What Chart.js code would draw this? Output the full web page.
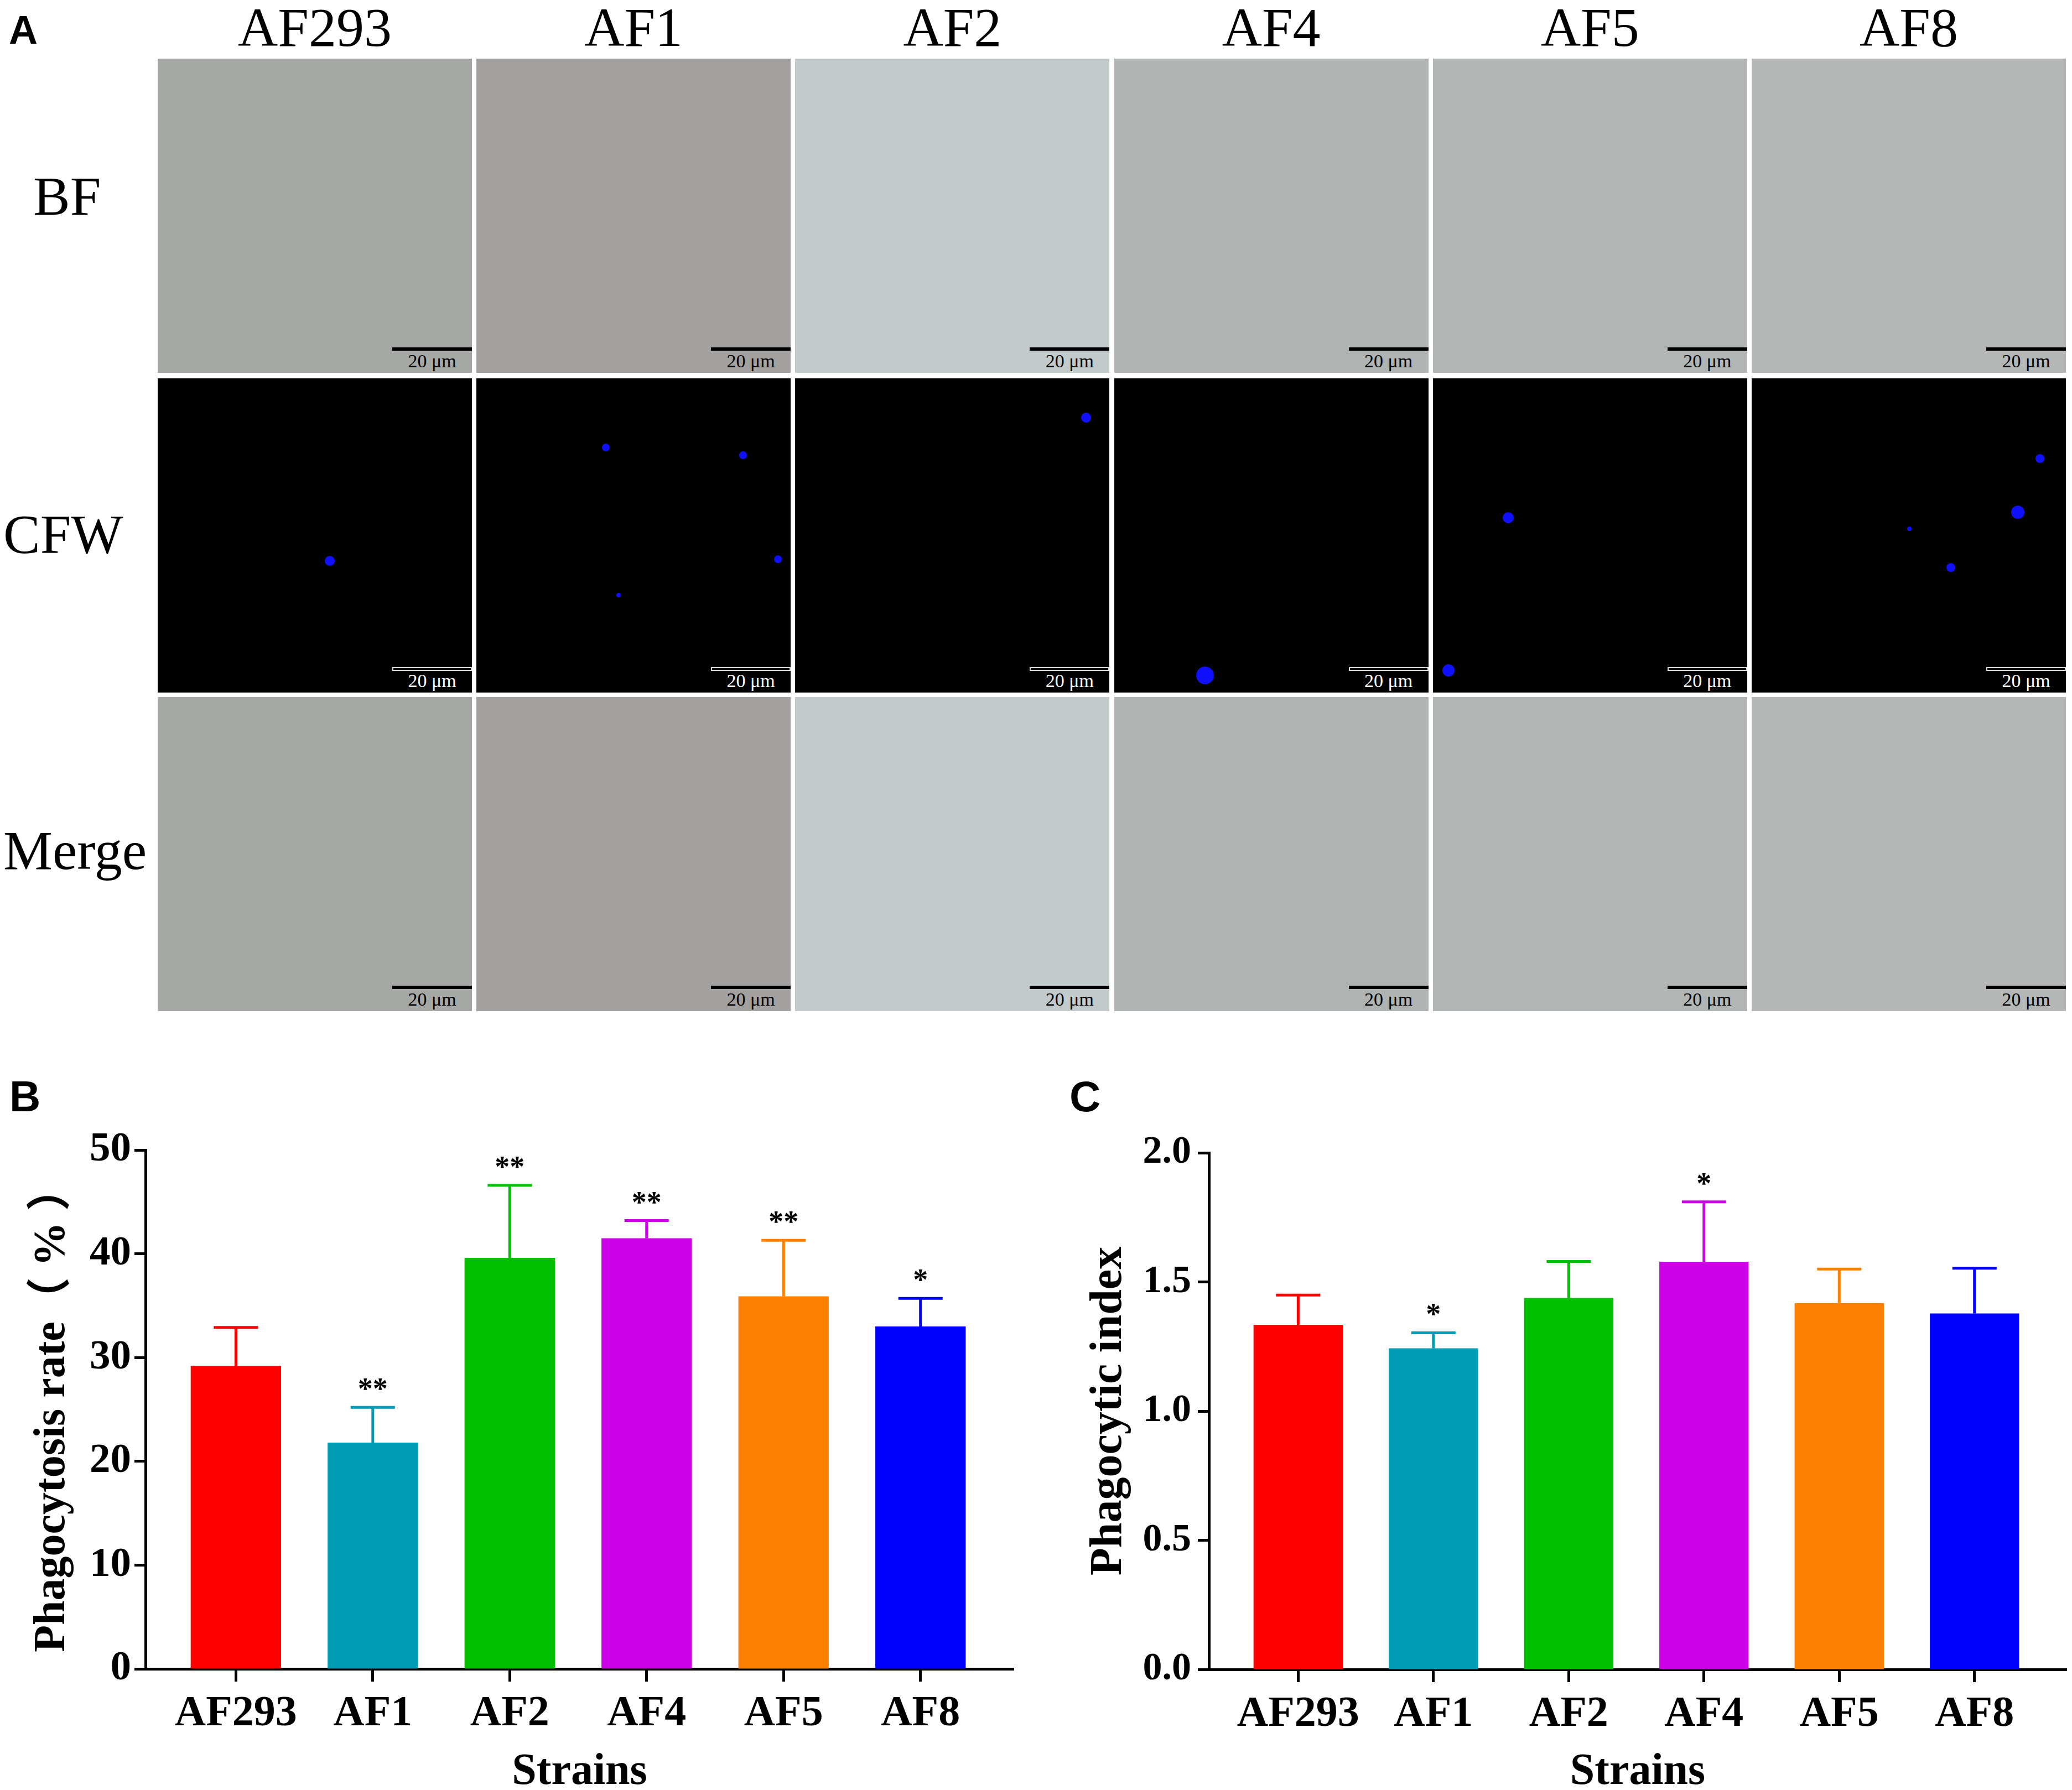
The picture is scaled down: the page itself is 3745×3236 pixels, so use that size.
<!DOCTYPE html>
<html>
<head>
<meta charset="utf-8">
<title>Phagocytosis of Aspergillus strains</title>
<script src="https://cdn.jsdelivr.net/npm/chart.js@4.4.1/dist/chart.umd.min.js"></script>
<style>
    body {
        margin: 0;
        width: 3745px;
        height: 3236px;
        overflow: hidden;
        background: #fff;
        position: relative;
        font-family: 'Liberation Serif', 'Times New Roman', serif;
    }
    .panel-label {
        position: absolute;
        font-family: 'Liberation Sans', Arial, sans-serif;
        font-weight: bold;
        line-height: 1;
        color: #000;
    }
    .serif-label {
        position: absolute;
        font-size: 100px;
        line-height: 100px;
        color: #000;
        white-space: nowrap;
    }
    .img {
        position: absolute;
        width: 568px;
        height: 568px;
        overflow: hidden;
    }
    .bar-scale {
        position: absolute;
        left: 424px;
        top: 522px;
        width: 144px;
        height: 6px;
        background: #000;
    }
    .bar-scale.hollow {
        background: transparent;
        border: 2px solid #d8d8d8;
        height: 3px;
        width: 140px;
    }
    .scale-text {
        position: absolute;
        left: 444px;
        width: 104px;
        top: 530px;
        font-size: 34px;
        line-height: 34px;
        text-align: center;
        color: #000;
    }
    .dot {
        position: absolute;
        border-radius: 50%;
        background: #1010ff;
    }
    canvas { position: absolute; }
</style>
</head>
<body>
<div class="panel-label" style="left:16px; top:18px; font-size:72px;">A</div>
<div class="panel-label" style="left:17px; top:1943px; font-size:78px;">B</div>
<div class="panel-label" style="left:1933px; top:1943px; font-size:78px;">C</div>
<div id="panelA"></div>

<canvas id="rateChart" width="1880" height="1344" style="left:0; top:1900px; width:1880px; height:1344px;"></canvas>
<canvas id="indexChart" width="1865" height="1344" style="left:1880px; top:1900px; width:1865px; height:1344px;"></canvas>

<script>
// strains, shared by both panels
const strains = ['AF293', 'AF1', 'AF2', 'AF4', 'AF5', 'AF8'];
const barColors = ['#ff0000', '#009bb5', '#00c000', '#cc00e6', '#ff8000', '#0000ff'];

// B: phagocytosis rate (%)
const rateMean = [29.2, 21.8, 39.6, 41.5, 35.9, 33.0];
const rateSd = [3.7, 3.4, 7.0, 1.7, 5.4, 2.7];
const rateStars = ['', '**', '**', '**', '**', '*'];
const rateTicks = [0, 10, 20, 30, 40, 50];

// C: phagocytic index
const indexMean = [1.334, 1.243, 1.438, 1.578, 1.418, 1.378];
const indexSd = [0.115, 0.060, 0.141, 0.232, 0.132, 0.175];
const indexStars = ['', '*', '', '*', '', ''];
const indexTicks = [0, 0.5, 1.0, 1.5, 2.0];

// panel A (microscopy) placeholders
const rowNames = ['BF', 'CFW', 'Merge'];
const fieldTones = ['#a6a8a6', '#a3a19f', '#c3cacb', '#afb4b2', '#b1b5b4', '#b5b7b6'];
const cfwDots = [
    [[311, 330, 9]],
    [[234, 125, 7], [482, 139, 7], [545, 327, 7], [257, 392, 4]],
    [[526, 71, 9]],
    [[164, 537, 16]],
    [[136, 252, 10], [28, 528, 11]],
    [[521, 145, 8], [481, 242, 12], [285, 272, 4], [360, 342, 8]]
];

const SERIF = "'Liberation Serif', 'Times New Roman', 'Noto Sans CJK SC', serif";

function buildPanelA() {
    const host = document.getElementById('panelA');
    const colX = strains.map((s, i) => 285 + i * 576.2);
    const rowY = [106, 684, 1260];
    const rowLabelPos = [[60, 305], [6, 916], [6, 1488]];

    strains.forEach((name, c) => {
        const head = document.createElement('div');
        head.className = 'serif-label';
        head.style.left = (colX[c] - 16) + 'px';
        head.style.width = '600px';
        head.style.textAlign = 'center';
        head.style.top = '0px';
        head.textContent = name;
        host.appendChild(head);

        rowY.forEach((y, r) => {
            const box = document.createElement('div');
            box.className = 'img';
            box.style.left = colX[c] + 'px';
            box.style.top = y + 'px';
            const fluo = r === 1;
            box.style.background = fluo ? '#000' : fieldTones[c];

            if (fluo) {
                cfwDots[c].forEach(d => {
                    const dot = document.createElement('div');
                    dot.className = 'dot';
                    dot.style.left = (d[0] - d[2]) + 'px';
                    dot.style.top = (d[1] - d[2]) + 'px';
                    dot.style.width = dot.style.height = (2 * d[2]) + 'px';
                    box.appendChild(dot);
                });
            }

            const bar = document.createElement('div');
            bar.className = fluo ? 'bar-scale hollow' : 'bar-scale';
            box.appendChild(bar);
            const txt = document.createElement('div');
            txt.className = 'scale-text';
            txt.style.color = fluo ? '#fff' : '#000';
            txt.textContent = '20 μm';
            box.appendChild(txt);
            host.appendChild(box);
        });
    });

    rowNames.forEach((name, r) => {
        const lab = document.createElement('div');
        lab.className = 'serif-label';
        lab.style.left = rowLabelPos[r][0] + 'px';
        lab.style.top = rowLabelPos[r][1] + 'px';
        lab.textContent = name;
        host.appendChild(lab);
    });
}

// error bars and significance stars, drawn from the y scale
function errorBarPlugin(mean, sd, stars) {
    return {
        id: 'errorBars',
        afterDatasetsDraw(chart) {
            const ctx = chart.ctx;
            const y = chart.scales.y;
            const meta = chart.getDatasetMeta(0);
            ctx.save();
            meta.data.forEach((bar, i) => {
                const top = y.getPixelForValue(mean[i] + sd[i]);
                ctx.strokeStyle = barColors[i];
                ctx.lineWidth = 5;
                ctx.beginPath();
                ctx.moveTo(bar.x, bar.y);
                ctx.lineTo(bar.x, top);
                ctx.moveTo(bar.x - 40, top);
                ctx.lineTo(bar.x + 40, top);
                ctx.stroke();
                if (stars[i]) {
                    ctx.fillStyle = '#000';
                    ctx.font = 'bold 54px ' + SERIF;
                    ctx.textAlign = 'center';
                    ctx.textBaseline = 'alphabetic';
                    ctx.fillText(stars[i], bar.x, top - 16);
                }
            });
            ctx.restore();
        }
    };
}

function makeBarChart(canvasId, opts) {
    const data = {
        datasets: [{
            data: opts.mean.map((v, i) => ({ x: i, y: v })),
            backgroundColor: barColors,
            borderWidth: 0,
            barPercentage: 0.66,
            categoryPercentage: 1
        }]
    };

    const config = {
        type: 'bar',
        data: data,
        options: {
            responsive: false,
            animation: false,
            devicePixelRatio: 1,
            layout: {
                padding: { left: 0, top: opts.top, right: opts.right, bottom: 0 }
            },
            plugins: {
                legend: { display: false },
                tooltip: { enabled: false }
            },
            scales: {
                x: {
                    type: 'linear',
                    min: -0.66,
                    max: 5.68,
                    offset: false,
                    z: 1,
                    afterBuildTicks: s => { s.ticks = strains.map((n, i) => ({ value: i })); },
                    afterFit: s => { s.height = 1344 - opts.bottom; },
                    ticks: {
                        autoSkip: false,
                        maxRotation: 0,
                        padding: 12,
                        color: '#000',
                        font: { family: SERIF, weight: 'bold', size: 78 },
                        callback: v => strains[v]
                    },
                    grid: {
                        display: true,
                        offset: false,
                        drawOnChartArea: false,
                        drawTicks: true,
                        tickLength: 23,
                        tickWidth: 5,
                        tickColor: '#000'
                    },
                    border: { display: true, color: '#000', width: 5 },
                    title: {
                        display: true,
                        text: 'Strains',
                        color: '#000',
                        font: { family: SERIF, weight: 'bold', size: 80, lineHeight: 1 },
                        padding: 0
                    }
                },
                y: {
                    min: 0,
                    max: opts.max,
                    z: 1,
                    afterBuildTicks: s => { s.ticks = opts.ticks.map(v => ({ value: v })); },
                    afterFit: s => { s.width = opts.axisX; },
                    ticks: {
                        padding: opts.tickPad,
                        color: '#000',
                        font: { family: SERIF, weight: 'bold', size: opts.tickSize },
                        callback: opts.fmt
                    },
                    grid: {
                        display: true,
                        drawOnChartArea: false,
                        drawTicks: true,
                        tickLength: 20,
                        tickWidth: 5,
                        tickColor: '#000'
                    },
                    border: { display: true, color: '#000', width: 5 },
                    title: {
                        display: true,
                        text: opts.title,
                        color: '#000',
                        font: { family: SERIF, weight: 'bold', size: opts.titleSize },
                        padding: { top: opts.titlePad, bottom: 0 }
                    }
                }
            }
        },
        plugins: [errorBarPlugin(opts.mean, opts.sd, opts.stars)]
    };

    const ctx = document.getElementById(canvasId).getContext('2d');
    return new Chart(ctx, config);
}

buildPanelA();

const rateChart = makeBarChart('rateChart', {
    mean: rateMean, sd: rateSd, stars: rateStars, ticks: rateTicks,
    max: 50, top: 179, right: 48, bottom: 1117, axisX: 263,
    tickPad: 6, tickSize: 75, fmt: v => String(v),
    title: 'Phagocytosis rate（ % ）', titleSize: 80, titlePad: 47
});

const indexChart = makeBarChart('indexChart', {
    mean: indexMean, sd: indexSd, stars: indexStars, ticks: indexTicks,
    max: 2, top: 184, right: 10, bottom: 1118, axisX: 305,
    tickPad: 12, tickSize: 70, fmt: v => v.toFixed(1),
    title: 'Phagocytic index', titleSize: 82, titlePad: 76
});
</script>
</body>
</html>
